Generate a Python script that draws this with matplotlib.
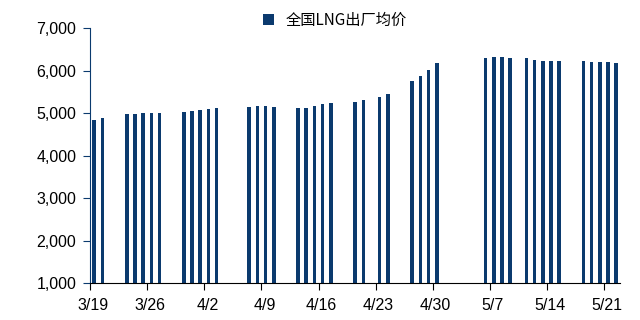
import numpy as np
import matplotlib
matplotlib.use('Agg')
import matplotlib.pyplot as plt
import matplotlib.transforms as mtransforms
from matplotlib.ticker import FuncFormatter

plt.rcParams['font.family'] = ['Liberation Sans', 'Noto Sans CJK SC', 'DejaVu Sans']

# 距 3/19 的天数（仅交易日有数据）
days = [0, 1, 4, 5, 6, 7, 8, 11, 12, 13, 14, 15, 19, 20, 21, 22,
        25, 26, 27, 28, 29, 32, 33, 35, 36, 39, 40, 41, 42,
        48, 49, 50, 51, 53, 54, 55, 56, 57, 60, 61, 62, 63, 64]
price = [4830, 4875, 4976, 4976, 4993, 5000, 5000,
         5016, 5040, 5071, 5087, 5127,
         5141, 5158, 5158, 5134,
         5127, 5127, 5165, 5205, 5228,
         5259, 5315, 5385, 5456,
         5746, 5880, 6021, 6186,
         6287, 6326, 6326, 6303,
         6287, 6256, 6233, 6225, 6225,
         6225, 6209, 6201, 6201, 6186]
tick_days = [0, 7, 14, 21, 28, 35, 42, 49, 56, 63]
tick_labels = ['3/19', '3/26', '4/2', '4/9', '4/16', '4/23', '4/30', '5/7', '5/14', '5/21']
label = '全国LNG出厂均价'

navy = '#0B3A6E'

fig = plt.figure(figsize=(6.4, 3.2), dpi=100)
ax = fig.add_axes([0.141, 0.115, 0.828, 0.797])

ax.bar(np.array(days) + 0.5, price, width=0.45, color=navy, label=label)

ax.set_ylim(1000, 7000)
ax.set_yticks(range(1000, 8000, 1000))
ax.yaxis.set_major_formatter(FuncFormatter(lambda v, p: f'{int(v):,}'))
ax.set_xlim(0, 65)
ax.set_xticks(tick_days)
ax.set_xticklabels(tick_labels)

for s in ['top', 'right']:
    ax.spines[s].set_visible(False)
ax.spines['left'].set_color(navy)
ax.spines['bottom'].set_color('black')
ax.tick_params(axis='y', direction='out', length=5, color=navy, labelsize=11.5, pad=5)
ax.tick_params(axis='x', direction='out', length=5, color='black', labelsize=11.5, pad=6)

# x 标签略微右移
shift = mtransforms.ScaledTranslation(3 / 100, 0, fig.dpi_scale_trans)
for t in ax.get_xticklabels():
    t.set_transform(t.get_transform() + shift)

ax.legend(loc='center', bbox_to_anchor=(0.462, 1.03), frameon=False,
          handlelength=0.7, handleheight=0.7, handletextpad=0.8,
          prop={'family': ['Noto Sans CJK SC', 'DejaVu Sans'], 'size': 11})

fig.savefig('out.png', dpi=100)
